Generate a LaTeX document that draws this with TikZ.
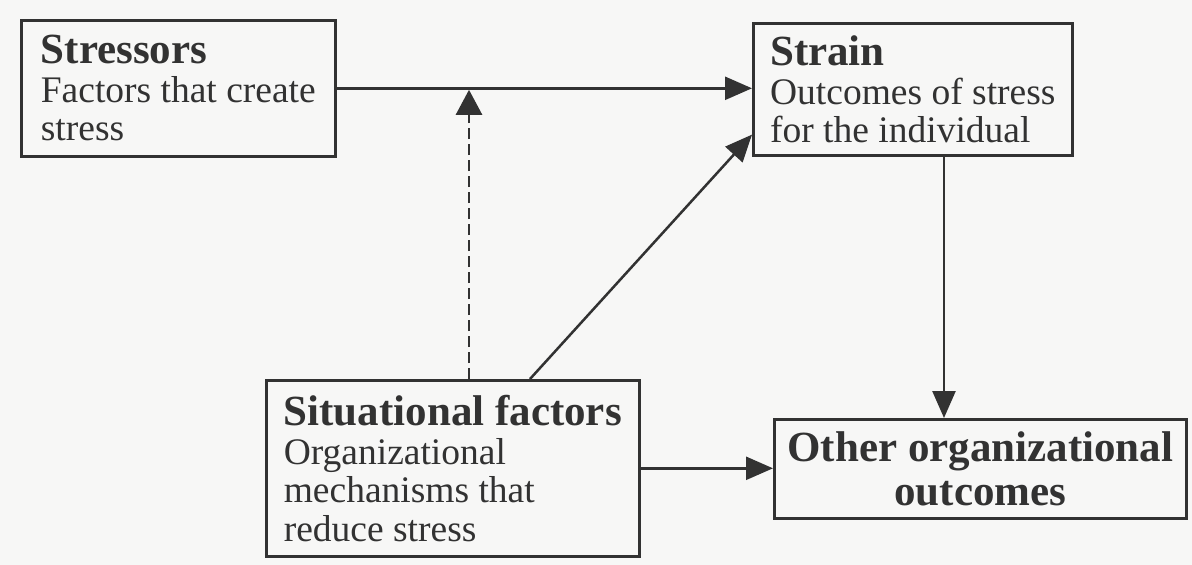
\documentclass[tikz,border=0pt]{standalone}
\usepackage{fontspec}
\setmainfont{Liberation Serif}
\usetikzlibrary{arrows.meta}
\definecolor{ink}{RGB}{50,50,50}
\definecolor{paper}{RGB}{247,247,246}

\begin{document}
\begin{tikzpicture}[x=1pt,y=-1pt,
  box/.style={draw=ink, line width=2.6pt, rectangle, anchor=north west,
    inner ysep=0pt, text=ink, font=\fontsize{37.5}{38.5}\selectfont},
  arr/.style={draw=ink, line width=2.5pt, -{Triangle[length=27pt,width=23pt]}},
  dasharr/.style={draw=ink, line width=2.6pt, dash pattern=on 11pt off 5pt,
    -{Triangle[length=25pt,width=26pt]}}]

% page and frame of the picture
\fill[paper] (0,0) rectangle (1192,565);
\useasboundingbox (0,0) rectangle (1192,565);

% boxes
\node[box, align=left, inner xsep=18pt, minimum width=314pt, minimum height=136pt]
  (stress) at (20,19)
  {{\fontsize{43}{38.5}\selectfont\bfseries Stressors}\\Factors that create\\stress};

\node[box, align=left, inner xsep=16pt, minimum width=319pt, minimum height=132pt]
  (strain) at (752,22)
  {{\fontsize{43}{38.5}\selectfont\bfseries Strain}\\Outcomes of stress\\for the individual};

\node[box, align=left, inner xsep=17pt, minimum width=373pt, minimum height=176pt]
  (sit) at (265,379)
  {{\fontsize{43}{38.5}\selectfont\bfseries Situational factors}\\Organizational\\mechanisms that\\reduce stress};

\node[box, align=center, inner xsep=10pt, minimum width=412pt, minimum height=99pt,
  font=\fontsize{43}{44}\selectfont\bfseries]
  (other) at (773,418)
  {Other organizational\\outcomes};

% connectors
\draw[arr] (stress.east) -- (stress.east -| strain.west);

\coordinate (dbase) at ([xshift=204pt]sit.north west);
\draw[dasharr] (dbase) -- ([yshift=-1.5pt]dbase |- stress.east);

\draw[arr] ([xshift=265pt]sit.north west) -- ([yshift=22pt]strain.south west);

\coordinate (vtop) at ([xshift=192pt]strain.south west);
\draw[arr] (vtop) -- (vtop |- other.north);

\draw[arr] (sit.east) -- (sit.east -| other.west);
\end{tikzpicture}
\end{document}
